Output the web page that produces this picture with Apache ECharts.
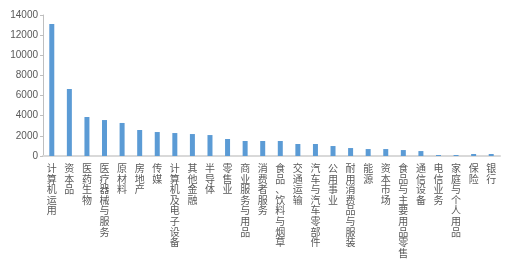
<!DOCTYPE html>
<html>
<head>
<meta charset="utf-8">
<script src="https://cdn.jsdelivr.net/npm/echarts@6/dist/echarts.min.js"></script>
<style>html,body{margin:0;padding:0;background:#fff}#c{width:518px;height:268px}</style>
</head>
<body>
<div id="c"></div>
<script>
const categories = ['计算机运用','资本品','医药生物','医疗器械与服务','原材料','房地产','传媒','计算机及电子设备','其他金融','半导体','零售业','商业服务与用品','消费者服务','食品、饮料与烟草','交通运输','汽车与汽车零部件','公用事业','耐用消费品与服装','能源','资本市场','食品与主要用品零售','通信设备','电信业务','家庭与个人用品','保险','银行'];
const values = [13100,6650,3870,3570,3280,2580,2380,2280,2180,2080,1690,1490,1490,1490,1190,1190,990,790,690,690,590,490,100,100,200,200];
const yTicks = [0,2000,4000,6000,8000,10000,12000,14000];

const chart = echarts.init(document.getElementById('c'));
chart.setOption({
  animation:false,
  grid:{left:43,right:18,top:15,bottom:112,containLabel:false},
  xAxis:{
    type:'category',
    data:categories,
    axisLine:{lineStyle:{color:'#d9d9d9',width:2}},
    axisTick:{show:false},
    axisLabel:{
      interval:0,
      hideOverlap:false,
      overflow:'none',
      width:20,
      color:'#595959',
      fontSize:10,
      lineHeight:10.6,
      fontFamily:'Noto Sans CJK SC',
      verticalAlign:'top',
      align:'center',
      margin:7,
      formatter:v=>v.split('').join('\n')
    }
  },
  yAxis:{
    type:'value',
    min:yTicks[0],
    max:yTicks[yTicks.length-1],
    interval:2000,
    splitLine:{show:false},
    axisLine:{show:true,lineStyle:{color:'#bfbfbf'}},
    axisTick:{show:true,length:3,lineStyle:{color:'#bfbfbf'}},
    axisLabel:{color:'#595959',fontSize:10,margin:5,fontFamily:'Liberation Sans',formatter:v=>String(v)}
  },
  series:[{
    type:'bar',
    data:values,
    barWidth:5,
    itemStyle:{color:'#5B9BD5'}
  }]
});
</script>
</body>
</html>
